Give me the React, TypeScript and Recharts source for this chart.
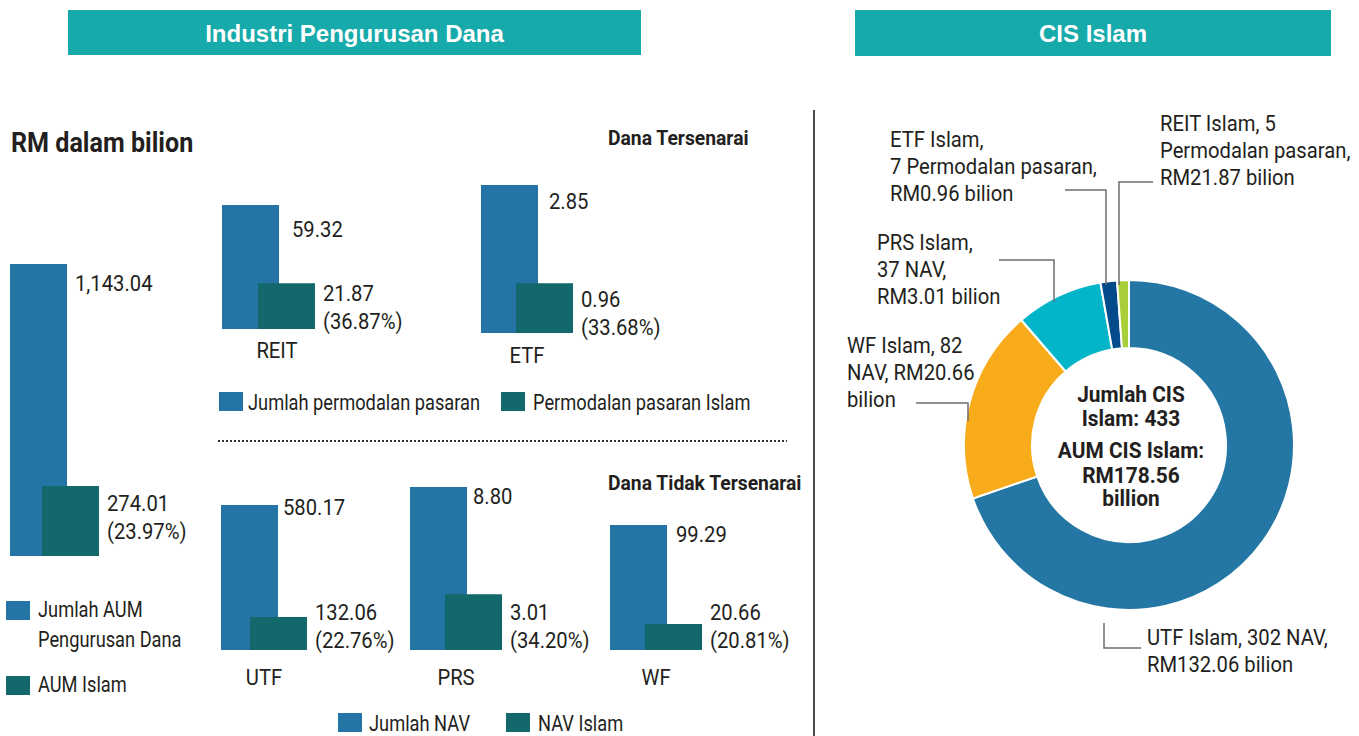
import React from 'react';
import { BarChart, Bar, XAxis, YAxis, PieChart, Pie, Cell } from 'recharts';

const FONT = "'Liberation Sans Narrow', 'Arial Narrow', Roboto, sans-serif";
const HEAD_FONT = "'Liberation Sans', Arial, sans-serif";
const INK = '#231f20';
const BLUE = '#2475a5';
const TEAL = '#12686a';
const HEAD = '#17aaab';
const LEADER = '#6d6e71';

// Industri pengurusan dana, RM bilion
const aumCategories = ['AUM'];
const aumTotal = [1143.04];
const aumIslam = [274.01];
const aumShare = [23.97];

const listedCategories = ['REIT', 'ETF'];
const listedTotal = [59.32, 2.85];
const listedIslam = [21.87, 0.96];
const listedShare = [36.87, 33.68];

const unlistedCategories = ['UTF', 'PRS', 'WF'];
const unlistedTotal = [580.17, 8.8, 99.29];
const unlistedIslam = [132.06, 3.01, 20.66];
const unlistedShare = [22.76, 34.2, 20.81];

// CIS Islam (slices sized by number of funds)
const cisNames = ['UTF Islam', 'WF Islam', 'PRS Islam', 'ETF Islam', 'REIT Islam'];
const cisCounts = [302, 82, 37, 7, 5];
const cisLabels = [
  ['UTF Islam, 302 NAV,', 'RM132.06 bilion'],
  ['WF Islam, 82', 'NAV, RM20.66', 'bilion'],
  ['PRS Islam,', '37 NAV,', 'RM3.01 bilion'],
  ['ETF Islam,', '7 Permodalan pasaran,', 'RM0.96 bilion'],
  ['REIT Islam, 5', 'Permodalan pasaran,', 'RM21.87 bilion'],
];
const cisColors = ['#2476a4', '#f8ac1c', '#02b5c9', '#034b8b', '#a8cf38'];

const fmt = (v: number) =>
  v.toLocaleString('en-US', { minimumFractionDigits: 2, maximumFractionDigits: 2 });

// the original uses a condensed face; squeeze Roboto to roughly match
const SX = 0.92;
const SX_LEGEND = 0.83;

function NText({
  x,
  y,
  lines,
  size = 22,
  bold = false,
  anchor = 'start',
  lh = 27,
  sx = SX,
  fill = INK,
}: {
  x: number;
  y: number;
  lines: string[];
  size?: number;
  bold?: boolean;
  anchor?: 'start' | 'middle' | 'end';
  lh?: number;
  sx?: number;
  fill?: string;
}) {
  return (
    <text
      transform={`translate(${x},${y}) scale(${sx},1)`}
      textAnchor={anchor}
      fill={fill}
      fontSize={size}
      fontWeight={bold ? 'bold' : 'normal'}
      fontFamily={FONT}
    >
      {lines.map((s, j) => (
        <tspan key={j} x={0} y={j * lh}>
          {s}
        </tspan>
      ))}
    </text>
  );
}

type Row = { name: string; total: number; islam: number; share: number };
type Layout = {
  top: number;
  bottom: number;
  center: number;
  gap: number;
  totalDx: number;
  totalDy: number;
  islamDy: number;
  tickDx: number;
  tickDy: number;
  axis: boolean;
};

const rowsFrom = (cats: string[], total: number[], islam: number[], share: number[]): Row[] =>
  cats.map((name, i) => ({ name, total: total[i], islam: islam[i], share: share[i] }));

const aumRows = rowsFrom(aumCategories, aumTotal, aumIslam, aumShare);
const listedRows = rowsFrom(listedCategories, listedTotal, listedIslam, listedShare);
const unlistedRows = rowsFrom(unlistedCategories, unlistedTotal, unlistedIslam, unlistedShare);

// each small chart has its own scale, like the original
const aumLayout: Layout[] = [
  { top: 264, bottom: 556, center: 53.5, gap: -25, totalDx: 8, totalDy: 27, islamDy: -45, tickDx: 0, tickDy: 0, axis: false },
];
const listedLayout: Layout[] = [
  { top: 205, bottom: 329, center: 267.5, gap: -21, totalDx: 13, totalDy: 32, islamDy: -28, tickDx: 9, tickDy: 29, axis: true },
  { top: 185, bottom: 333, center: 527, gap: -22, totalDx: 11, totalDy: 24, islamDy: -26, tickDx: 0, tickDy: 30, axis: true },
];
const unlistedLayout: Layout[] = [
  { top: 505, bottom: 650, center: 264, gap: -28, totalDx: 5, totalDy: 10, islamDy: -30, tickDx: 0, tickDy: 35, axis: true },
  { top: 487, bottom: 650, center: 456, gap: -22, totalDx: 6, totalDy: 17, islamDy: -30, tickDx: 0, tickDy: 35, axis: true },
  { top: 525, bottom: 650, center: 656, gap: -22, totalDx: 9, totalDy: 17, islamDy: -30, tickDx: 0, tickDy: 35, axis: true },
];

const BAR = 57;
const PLOT_W = 120;
const CHART_W = 250;
const AXIS_H = 45;
const PAD = 30;

function Panel({ row, lay }: { row: Row; lay: Layout }) {
  const axisH = lay.axis ? AXIS_H : 0;
  return (
    <div style={{ position: 'absolute', left: lay.center - PLOT_W / 2, top: lay.top - PAD }}>
      <BarChart
        width={CHART_W}
        height={lay.bottom - lay.top + axisH + PAD}
        data={[row]}
        margin={{ top: PAD, right: CHART_W - PLOT_W, bottom: 0, left: 0 }}
        barSize={BAR}
        barGap={lay.gap}
      >
        <XAxis
          dataKey="name"
          hide={!lay.axis}
          height={axisH}
          axisLine={false}
          tickLine={false}
          tickSize={0}
          tickMargin={0}
          interval={0}
          tick={({ x, y, payload }: any) => (
            <NText x={x + lay.tickDx} y={y + lay.tickDy} anchor="middle" lines={[payload.value]} />
          )}
        />
        <YAxis hide domain={[0, 'dataMax']} />
        <Bar
          dataKey="total"
          fill={BLUE}
          isAnimationActive={false}
          label={(p: any) => (
            <NText x={p.x + p.width + lay.totalDx} y={p.y + lay.totalDy} lines={[fmt(p.value)]} />
          )}
        />
        <Bar
          dataKey="islam"
          fill={TEAL}
          isAnimationActive={false}
          label={(p: any) => (
            <NText
              x={p.x + p.width + 8}
              y={p.y + p.height + lay.islamDy}
              lh={28}
              lines={[fmt(p.value), `(${row.share.toFixed(2)}%)`]}
            />
          )}
        />
      </BarChart>
    </div>
  );
}

const PIE_LEFT = 830;
const PIE_TOP = 100;
const PIE_CX = 299;
const PIE_CY = 345;

const cisData = cisNames.map((name, i) => ({ name, value: cisCounts[i] }));

// leader elbows and text anchors, relative to the donut centre
const leaders = [
  { pts: [[-25, 178], [-25, 203], [12, 203]], tx: 18, ty: 200 },
  { pts: [[-161, -24], [-161, -42], [-213, -42]], tx: -282, ty: -92 },
  { pts: [[-75, -143], [-75, -185], [-130, -185]], tx: -252, ty: -195 },
  { pts: [[-23, -160], [-23, -255], [-64, -255]], tx: -239, ty: -298 },
  { pts: [[-10, -160], [-10, -263], [24, -263]], tx: 31, ty: -314 },
];

const renderCisLabel = (p: any) => {
  const L = leaders[p.index];
  return (
    <g>
      <polyline
        points={L.pts.map(([dx, dy]) => `${PIE_CX + dx},${PIE_CY + dy}`).join(' ')}
        fill="none"
        stroke={LEADER}
        strokeWidth={1.5}
      />
      <NText x={PIE_CX + L.tx} y={PIE_CY + L.ty} lines={cisLabels[p.index]} />
    </g>
  );
};

const centreLines = [
  { t: 'Jumlah CIS', y: 402 },
  { t: 'Islam: 433', y: 426 },
  { t: 'AUM CIS Islam:', y: 458 },
  { t: 'RM178.56', y: 483 },
  { t: 'billion', y: 506 },
];

function Swatch({ x, y, color }: { x: number; y: number; color: string }) {
  return <rect x={x} y={y} width={24} height={19} fill={color} />;
}

export default function App() {
  return (
    <div style={{ position: 'absolute', left: 0, top: 0, width: 1359, height: 736, background: '#fff', overflow: 'hidden' }}>
      {aumRows.map((r, i) => (
        <Panel key={r.name} row={r} lay={aumLayout[i]} />
      ))}
      {listedRows.map((r, i) => (
        <Panel key={r.name} row={r} lay={listedLayout[i]} />
      ))}
      {unlistedRows.map((r, i) => (
        <Panel key={r.name} row={r} lay={unlistedLayout[i]} />
      ))}

      <div style={{ position: 'absolute', left: PIE_LEFT, top: PIE_TOP }}>
        <PieChart width={529} height={636} margin={{ top: 0, right: 0, bottom: 0, left: 0 }}>
          <Pie
            data={cisData}
            dataKey="value"
            nameKey="name"
            cx={PIE_CX}
            cy={PIE_CY}
            innerRadius={97}
            outerRadius={165}
            startAngle={90}
            endAngle={-270}
            stroke="#fff"
            strokeWidth={2}
            isAnimationActive={false}
            label={renderCisLabel}
            labelLine={false}
          >
            {cisData.map((d, i) => (
              <Cell key={d.name} fill={cisColors[i]} />
            ))}
          </Pie>
        </PieChart>
      </div>

      <svg width={1359} height={736} style={{ position: 'absolute', left: 0, top: 0, pointerEvents: 'none' }}>
        <rect x={68} y={10} width={573} height={45} fill={HEAD} />
        <text x={354.5} y={42} textAnchor="middle" fill="#fff" fontSize={24} fontWeight="bold" fontFamily={HEAD_FONT}>
          Industri Pengurusan Dana
        </text>
        <rect x={855} y={10} width={476} height={46} fill={HEAD} />
        <text x={1093} y={42} textAnchor="middle" fill="#fff" fontSize={24} fontWeight="bold" fontFamily={HEAD_FONT}>
          CIS Islam
        </text>

        <line x1={814} y1={110} x2={814} y2={736} stroke="#4d4d4f" strokeWidth={2} />

        <NText x={11} y={152} size={27} bold sx={0.93} lines={['RM dalam bilion']} />
        <NText x={608} y={145} size={21} bold lines={['Dana Tersenarai']} />
        <NText x={608} y={490} size={21} bold lines={['Dana Tidak Tersenarai']} />

        <line x1={218} y1={441} x2={787} y2={441} stroke="#333" strokeWidth={2} strokeDasharray="2 2" />

        {/* legends */}
        <Swatch x={6} y={601} color={BLUE} />
        <NText x={38} y={617} lh={30} sx={SX_LEGEND} lines={['Jumlah AUM', 'Pengurusan Dana']} />
        <Swatch x={6} y={676} color={TEAL} />
        <NText x={38} y={692} sx={SX_LEGEND} lines={['AUM Islam']} />

        <Swatch x={219} y={392} color={BLUE} />
        <NText x={248} y={410} sx={SX_LEGEND} lines={['Jumlah permodalan pasaran']} />
        <Swatch x={501} y={392} color={TEAL} />
        <NText x={533} y={410} sx={SX_LEGEND} lines={['Permodalan pasaran Islam']} />

        <Swatch x={338} y={713} color={BLUE} />
        <NText x={369} y={731} sx={SX_LEGEND} lines={['Jumlah NAV']} />
        <Swatch x={506} y={713} color={TEAL} />
        <NText x={538} y={731} sx={SX_LEGEND} lines={['NAV Islam']} />

        {centreLines.map((l) => (
          <NText key={l.t} x={1131} y={l.y} anchor="middle" bold sx={0.95} lines={[l.t]} />
        ))}
      </svg>
    </div>
  );
}
